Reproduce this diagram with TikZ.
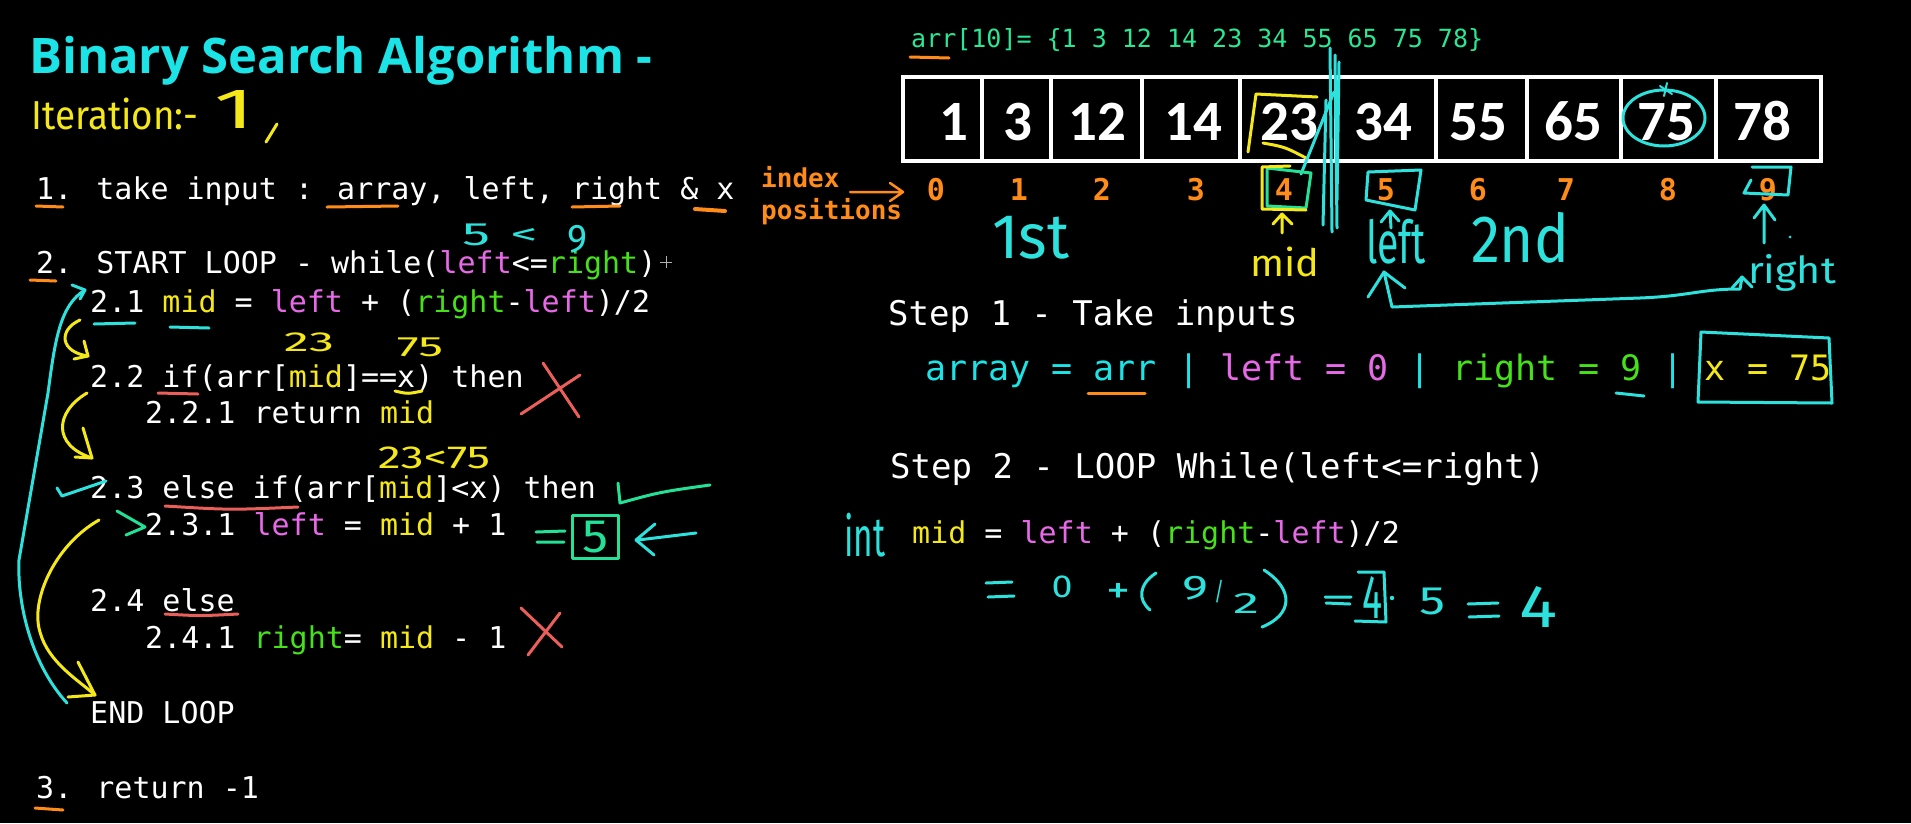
\documentclass[tikz,border=0pt]{standalone}
\usepackage{fontspec}
\usepackage{graphicx}
\setmainfont{Carlito}
\newfontfamily\codef{DejaVu Sans Mono}
\newfontfamily\handf{Fira Sans}
\newfontfamily\titlef{Open Sans}
\definecolor{tcyan}{RGB}{28,228,230}
\definecolor{hcyan}{RGB}{45,225,220}
\definecolor{cmag}{RGB}{232,105,232}
\definecolor{cgreen}{RGB}{70,225,25}
\definecolor{cyel}{RGB}{245,232,25}
\definecolor{corange}{RGB}{255,140,25}
\definecolor{cteal}{RGB}{40,232,150}
\definecolor{cred}{RGB}{235,95,90}
\definecolor{hgreen}{RGB}{35,225,150}
\newcommand\hw[3]{\resizebox*{#1pt}{#2pt}{\handf #3}}
\newcommand\colL[1]{\textcolor{cmag}{#1}}
\newcommand\colR[1]{\textcolor{cgreen}{#1}}
\newcommand\colM[1]{\textcolor{cyel}{#1}}
\newcommand\colC[1]{\textcolor{tcyan}{#1}}
\begin{document}
\begin{tikzpicture}[x=1pt,y=-1pt,
  ink/.style={line width=3pt,line cap=round,line join=round},
  codeline/.style={anchor=base west,inner sep=0pt,text=white,font=\codef\fontsize{30}{36}\selectfont},
  steptext/.style={anchor=base west,inner sep=0pt,text=white,font=\codef\fontsize{34}{40}\selectfont},
  hand/.style={inner sep=0pt,anchor=center},
  cellnum/.style={anchor=base,inner sep=0pt,text=white,font=\bfseries\fontsize{57}{60}\selectfont},
  idx/.style={anchor=base,inner sep=0pt,text=corange,font=\codef\bfseries\fontsize{30}{36}\selectfont},
  cellbox/.style={draw=white,line width=3.5pt}
]
\fill[black] (0,0) rectangle (1911,823);
\useasboundingbox (0,0) rectangle (1911,823);

% ---------------- title ----------------
\node[anchor=base west,inner sep=0pt,text=tcyan,font=\titlef\bfseries\fontsize{49}{56}\selectfont] (title) at (29,73) {Binary Search Algorithm -};
\node[hand,text=cyel] (iter) at (115,114) {\hw{167}{32}{Iteration:-}};
\node[hand,text=cyel] (iternum) at (235,109) {\hw{40}{38}{1}};
\draw[ink,cyel] (277,124) -- (266,142);

% ---------------- algorithm ----------------
\node[codeline] (l1) at (36,199) {1. take input : array, left, right \& x};
\node[codeline] (l2) at (36,273) {2. START LOOP - while(\colL{left}<=\colR{right})};
\node[codeline] (l21) at (90,312) {2.1 \colM{mid} = \colL{left} + (\colR{right}-\colL{left})/2};
\node[codeline] (l22) at (90,387) {2.2 if(arr[\colM{mid}]==x) then};
\node[codeline] (l221) at (145,423) {2.2.1 return \colM{mid}};
\node[codeline] (l23) at (90,498) {2.3 else if(arr[\colM{mid}]<x) then};
\node[codeline] (l231) at (145,535) {2.3.1 \colL{left} = \colM{mid} + 1};
\node[codeline] (l24) at (90,611) {2.4 else};
\node[codeline] (l241) at (145,648) {2.4.1 \colR{right}= \colM{mid} - 1};
\node[codeline] (lend) at (90,723) {END LOOP};
\node[codeline] (l3) at (36,798) {3. return -1};

% underlines
\draw[ink,corange] (36,206) -- (63,207);
\draw[ink,corange] (327,207) -- (398,206);
\draw[ink,corange] (572,207) -- (620,206);
\draw[ink,corange,line width=4pt] (695,209) -- (725,211);
\draw[ink,corange] (30,280) -- (56,281);
\draw[ink,hcyan] (94,324) -- (135,323);
\draw[ink,hcyan] (170,327) -- (209,328);
\draw[ink,cred] (158,393) -- (198,394);
\draw[ink,cyel] (395,391) .. controls (408,394) .. (422,391);
\draw[ink,cred] (165,506) .. controls (230,510) .. (298,507);
\draw[ink,cred] (165,614) .. controls (200,616) .. (238,614);
\draw[ink,corange] (35,808) -- (63,810);

% handwritten notes on the algorithm
\node[hand,text=hcyan] (n5) at (476,235) {\hw{28}{22}{5}};
\node[hand,text=hcyan] (nlt) at (524,236) {\hw{27}{16}{<}};
\node[hand,text=hcyan] (n9) at (577,239) {\hw{20}{28}{9}};
\draw[line width=1pt,white!70!black] (660,262) -- (672,262) (666,256) -- (666,268);
\node[hand,text=cyel] (n23a) at (309,342) {\hw{50}{19}{23}};
\node[hand,text=cyel] (n75a) at (420,347) {\hw{46}{19}{75}};
\node[hand,text=cyel] (ncmp) at (434,458) {\hw{112}{22}{23<75}};
% red crosses
\draw[ink,cred] (543,363) -- (579,417) (580,375) -- (521,414);
\draw[ink,cred] (521,608) -- (562,647) (560,613) -- (528,655);
% green tick after then
\draw[ink,hgreen] (618,483) -- (620,503) .. controls (660,492) .. (710,485);
% = [5] <-
\draw[ink,hgreen] (536,532) -- (565,531) (537,542) -- (564,542);
\draw[ink,hgreen] (572,515) rectangle (618,558);
\node[hand,text=hgreen] (n5b) at (595,537) {\hw{26}{32}{5}};
\draw[ink,hcyan] (696,533) -- (638,540);
\draw[ink,hcyan] (655,524) -- (636,540) -- (654,555);

% flow arrows on the left
\coordinate (a1s) at (80,320); \coordinate (a1e) at (88,356);
\draw[ink,cyel] (a1s) .. controls (58,330) and (60,352) .. (a1e);
\draw[ink,cyel] (84,341) -- (a1e) -- (74,359);
\coordinate (a2s) at (87,393); \coordinate (a2e) at (92,458);
\draw[ink,cyel] (a2s) .. controls (55,412) and (52,445) .. (a2e);
\draw[ink,cyel] (83,428) -- (a2e) -- (75,457);
\coordinate (a3s) at (99,520); \coordinate (a3e) at (95,695);
\draw[ink,cyel] (a3s) .. controls (55,545) and (30,600) .. (40,632) .. controls (48,662) and (78,680) .. (a3e);
\draw[ink,cyel] (78,662) -- (a3e) -- (68,697);
\coordinate (b1s) at (67,703); \coordinate (b1e) at (85,290);
\draw[ink,hcyan] (b1s) .. controls (32,665) and (17,605) .. (19,560) -- (48,393) .. controls (55,340) and (60,305) .. (b1e);
\draw[ink,hcyan] (72,285) -- (b1e) -- (80,299);
\draw[ink,hcyan] (57,488) -- (62,496) -- (106,481);
\coordinate (g1s) at (117,511); \coordinate (g1e) at (145,527);
\draw[ink,hgreen] (g1s) -- (g1e) -- (126,535);

% ---------------- array ----------------
\node[anchor=base west,inner sep=0pt,text=cteal,font=\codef\fontsize{25}{30}\selectfont] (arrdef) at (911,47) {arr[10]= \{1 3 12 14 23 34 55 65 75 78\}};
\draw[ink,corange] (910,57) -- (949,58);
\draw[cellbox] (903,77) rectangle (1821,161);
\foreach \xx in {982,1051,1142,1240,1336,1436,1527,1621,1716} \draw[cellbox] (\xx,77) -- (\xx,161);
\foreach \v/\xx [count=\k from 0] in {1/954,3/1018,12/1097,14/1193,23/1289,34/1383,55/1478,65/1573,75/1666,78/1762}
  \node[cellnum] (c\k) at (\xx,140) {\v};
\foreach \xx [count=\k from 0] in {936,1019,1102,1196,1284,1386,1478,1566,1668,1768}
  \node[idx] (i\k) at (\xx,200) {\k};
\node[anchor=base west,inner sep=0pt,text=corange,font=\codef\bfseries\fontsize{26}{30}\selectfont] (idxa) at (761,187) {index};
\node[anchor=base west,inner sep=0pt,text=corange,font=\codef\bfseries\fontsize{26}{30}\selectfont] (idxb) at (761,219) {positions};
\coordinate (idxs) at (850,192); \coordinate (idxt) at (903,192);
\draw[line width=2.5pt,corange,line cap=round,line join=round] (idxs) -- (idxt) (890,183) -- (idxt) -- (890,201);

% marks on the array
\draw[ink,cyel] (1317,97) -- (1256,94) -- (1248,152);
\draw[ink,cyel] (1263,143) .. controls (1285,147) .. (1306,158);
\draw[ink,hcyan] (1334,92) -- (1301,174);
\draw[ink,hcyan] (1330,48) -- (1332,232) (1335,55) -- (1337,228) (1326,100) -- (1323,225) (1339,62) -- (1337,200);
\draw[ink,hgreen] (1267,168) -- (1311,173) -- (1306,208) -- (1267,206) -- cycle;
\draw[ink,cyel] (1290,166) -- (1262,167) -- (1262,209) -- (1306,210);
\coordinate (ms) at (1282,233); \coordinate (me) at (1282,214);
\draw[ink,cyel] (ms) -- (me) (1273,224) -- (me) -- (1292,224);
\node[hand,text=cyel] (midlab) at (1285,262) {\hw{69}{30}{mid}};
\node[hand,text=hcyan] (first) at (1031,238) {\hw{77}{43}{1st}};
\draw[ink,hcyan] (1368,172) -- (1421,170) -- (1415,210) -- (1366,200) -- (1368,172);
\coordinate (ls) at (1391,228); \coordinate (le) at (1390,211);
\draw[ink,hcyan] (ls) -- (le) (1381,222) -- (le) -- (1399,221);
\node[hand,text=hcyan] (leftlab) at (1396,242) {\hw{60}{45}{left}};
\node[hand,text=hcyan] (second) at (1520,238) {\hw{98}{51}{2nd}};
\draw[ink,hcyan] (1664,118) ellipse [x radius=41,y radius=28];
\draw[ink,hcyan,line width=2pt] (1660,86) -- (1672,94) (1667,83) -- (1664,96);
\draw[ink,hcyan] (1752,167) -- (1791,167) -- (1788,195) -- (1744,193) -- (1751,180);
\coordinate (rs) at (1764,243); \coordinate (re) at (1764,205);
\draw[ink,hcyan] (rs) -- (re) (1754,218) -- (re) -- (1775,220);
\fill[hcyan] (1790,237) circle (1.5);
\node[hand,text=hcyan] (rightlab) at (1792,273) {\hw{88}{37}{right}};
\coordinate (bs) at (1742,277); \coordinate (be) at (1384,272);
\draw[ink,hcyan] (bs) -- (1740,289) .. controls (1700,289) and (1690,296) .. (1640,298) -- (1392,307) -- (be);
\draw[ink,hcyan] (1368,297) -- (be) -- (1405,288);
\draw[ink,hcyan] (1732,288) -- (bs) -- (1752,287);

% ---------------- steps ----------------
\node[steptext] (s1) at (888,325) {Step 1 - Take inputs};
\node[anchor=base west,inner sep=0pt,font=\codef\fontsize{35}{40}\selectfont] (inputs) at (925,380) {\colC{array = arr} \colC{|} \colL{left = 0} \colC{|} \colR{right = 9} \colC{|} \colM{x = 75}};
\draw[ink,corange] (1088,393) -- (1145,393);
\draw[ink,hcyan] (1616,393) -- (1644,396);
\draw[ink,hcyan] (1701,332) -- (1829,338) -- (1832,403) -- (1698,402) -- cycle;
\node[steptext] (s2) at (890,478) {Step 2 - LOOP While(left<=right)};
\node[hand,text=hcyan] (intlab) at (865,535) {\hw{41}{44}{int}};
\node[codeline] (midf) at (912,543) {\colM{mid} = \colL{left} + (\colR{right}-\colL{left})/2};

% handwritten computation
\draw[ink,hcyan] (986,583) -- (1012,582) (988,597) -- (1014,596);
\node[hand,text=hcyan] (e0) at (1062,587) {\hw{21}{22}{0}};
\node[hand,text=hcyan] (eplus) at (1118,593) {\hw{24}{20}{+}};
\draw[ink,hcyan] (1156,573) .. controls (1138,585) and (1138,600) .. (1150,610);
\node[hand,text=hcyan] (e9) at (1195,588) {\hw{26}{24}{9}};
\node[hand,text=hcyan] (eslash) at (1219,592) {\hw{10}{23}{/}};
\node[hand,text=hcyan] (e2) at (1246,603) {\hw{26}{20}{2}};
\draw[ink,hcyan] (1264,570) .. controls (1295,590) and (1292,615) .. (1262,627);
\draw[ink,hcyan] (1325,597) -- (1351,597) (1326,603) -- (1350,604);
\draw[ink,hcyan] (1358,572) -- (1384,572) -- (1386,622) -- (1355,621);
\node[hand,text=hcyan] (e4) at (1372,597) {\hw{20}{42}{4}};
\fill[hcyan] (1392,598) circle (2.2);
\node[hand,text=hcyan] (e5) at (1432,601) {\hw{26}{27}{5}};
\draw[ink,hcyan] (1468,604) -- (1498,603) (1469,617) -- (1499,616);
\node[hand,text=hcyan] (e4b) at (1538,607) {\hw{38}{41}{4}};
\end{tikzpicture}
\end{document}
